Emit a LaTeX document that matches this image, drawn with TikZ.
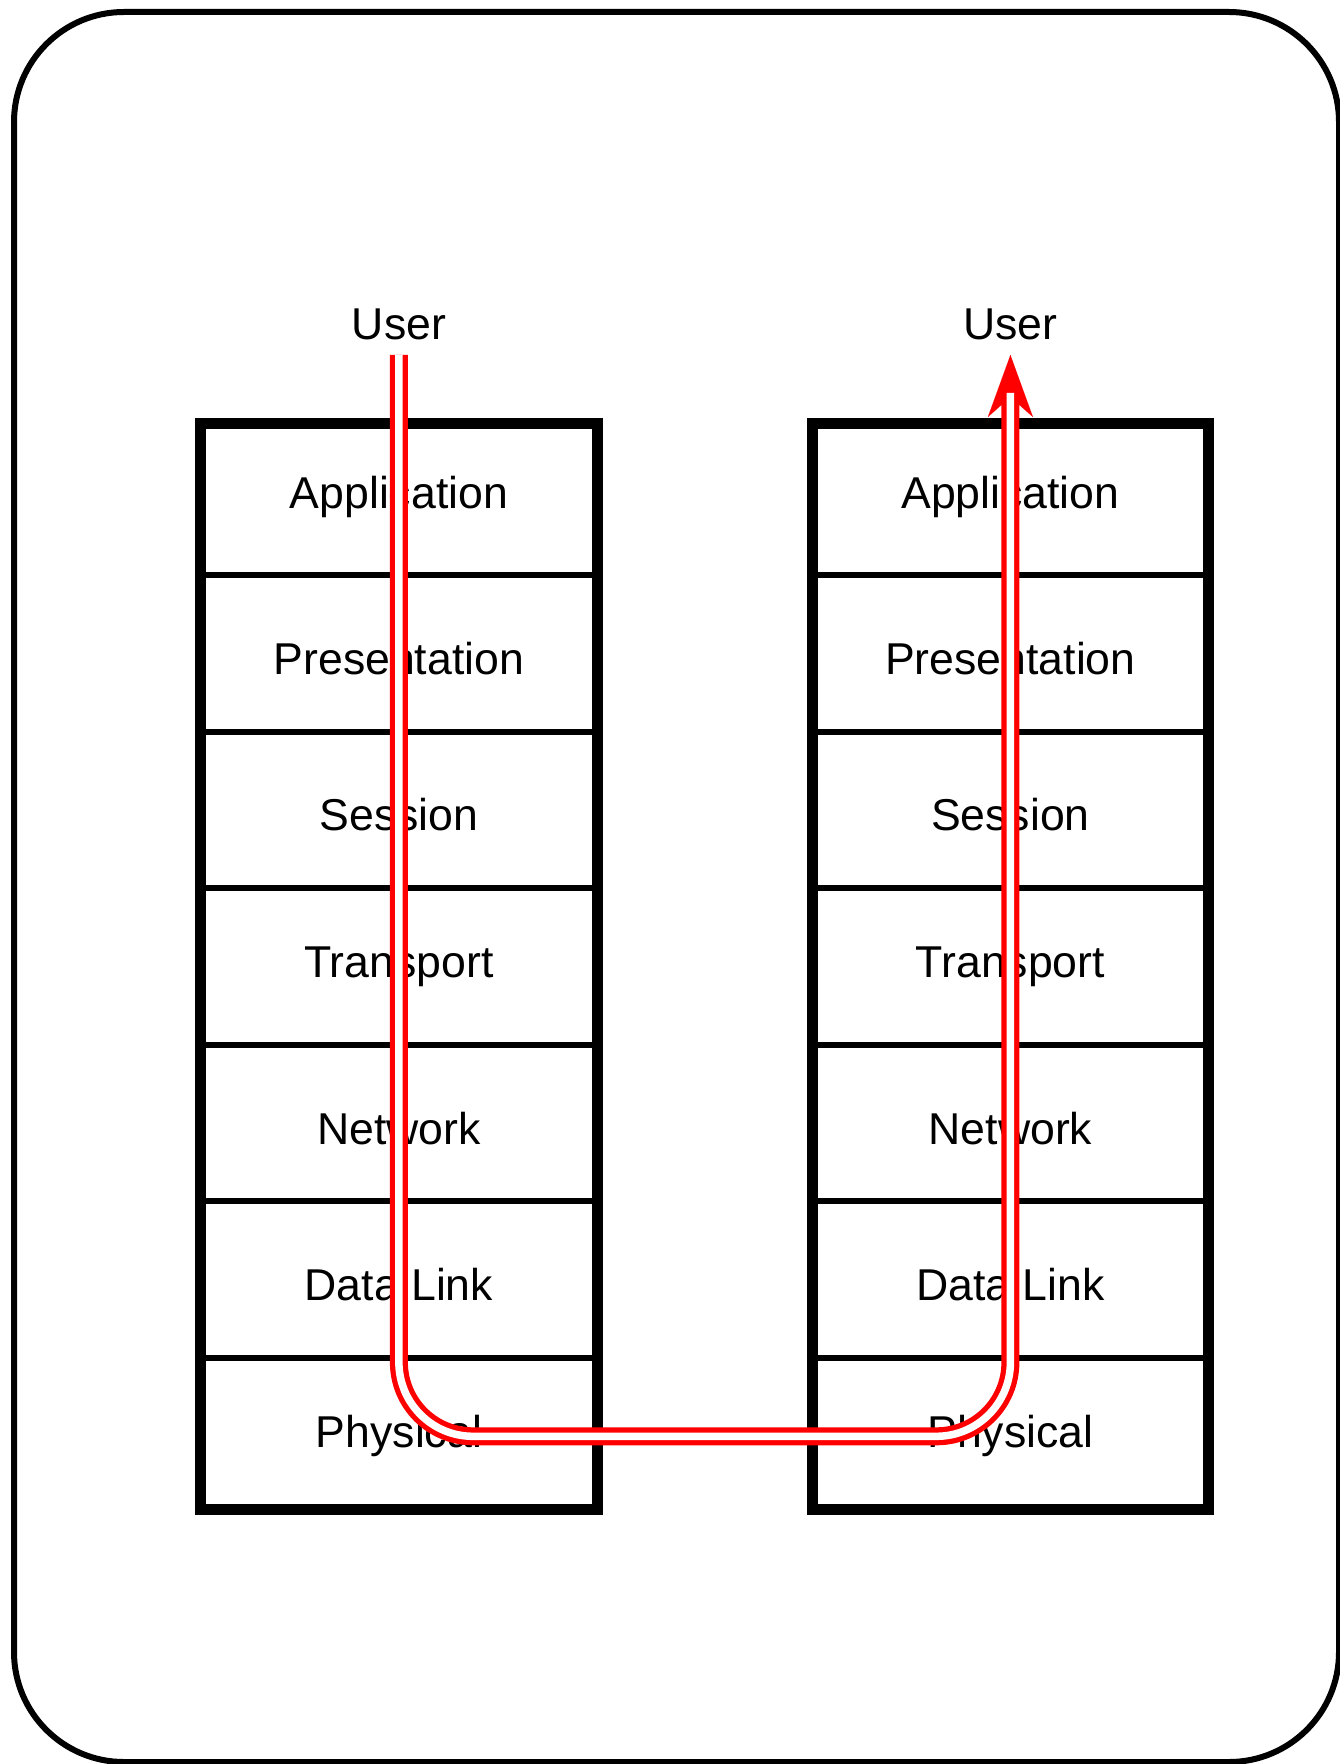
\documentclass[tikz,border=0pt]{standalone}
\usepackage{fontspec}
\setmainfont{Liberation Sans}
\usetikzlibrary{positioning, arrows.meta}
\tikzstyle{card} = [line width=3pt, rounded corners=55pt]
\tikzstyle{layer} = [rectangle, minimum width=203.75pt, minimum height=78.3pt, inner sep=0pt, outer sep=0pt]
\tikzstyle{flat} = [text height=21pt, text depth=0pt]
\tikzstyle{user} = [inner sep=4.5pt, outer sep=0pt, text height=16pt, text depth=3.35pt]
\tikzstyle{divider} = [line width=3pt]
\tikzstyle{frame} = [line width=5.5pt]
\tikzstyle{pipe} = [red, line width=9pt, rounded corners=37pt]
\tikzstyle{pipecore} = [white, line width=3.75pt, rounded corners=37pt]

\begin{document}
\begin{tikzpicture}[x=0.5pt, y=-0.5pt, node distance=0pt, font=\fontsize{22.3}{26}\selectfont]
    \useasboundingbox (0,0) rectangle (1339,1764);
    \draw[card] (14,12) rectangle (1339,1762);

    % Left stack
    \node[layer] (appL) at (398.9, 496.7) {Application};
    \node[layer, flat, below=of appL] (preL) {Presentation};
    \node[layer, flat, below=of preL] (sesL) {Session};
    \node[layer, below=of sesL] (traL) {Transport};
    \node[layer, flat, below=of traL] (netL) {Network};
    \node[layer, flat, below=of netL] (dlkL) {Data Link};
    \node[layer, below=of dlkL] (phyL) {Physical};

    % Right stack
    \node[layer] (appR) at (1010.4, 496.7) {Application};
    \node[layer, flat, below=of appR] (preR) {Presentation};
    \node[layer, flat, below=of preR] (sesR) {Session};
    \node[layer, below=of sesR] (traR) {Transport};
    \node[layer, flat, below=of traR] (netR) {Network};
    \node[layer, flat, below=of netR] (dlkR) {Data Link};
    \node[layer, below=of dlkR] (phyR) {Physical};

    % Users
    \node[user, above=31.7pt of appL] (userL) {User};
    \node[user, above=31.7pt of appR] (userR) {User};

    % Lines
    \foreach \n in {appL, preL, sesL, traL, netL, dlkL, appR, preR, sesR, traR, netR, dlkR}
        \draw[divider] (\n.south west) -- (\n.south east);
    \draw[frame] ([xshift=2.75pt, yshift=-2.75pt]appL.north west) rectangle ([xshift=-2.75pt, yshift=2.75pt]phyL.south east);
    \draw[frame] ([xshift=2.75pt, yshift=-2.75pt]appR.north west) rectangle ([xshift=-2.75pt, yshift=2.75pt]phyR.south east);

    % Data path
    \draw[pipe, -{Stealth[length=31pt, width=22.5pt, inset=10pt, line width=0.01pt]}]
        (userL.south) -- (userL.south |- phyL.center) -- (userR.south |- phyR.center) -- (userR.south);
    \draw[pipecore, shorten >=19pt]
        (userL.south) -- (userL.south |- phyL.center) -- (userR.south |- phyR.center) -- (userR.south);

\end{tikzpicture}
\end{document}
